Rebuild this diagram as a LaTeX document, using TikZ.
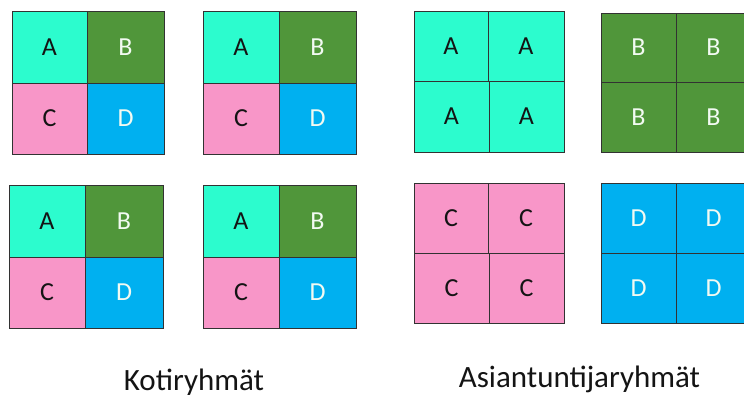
\documentclass[tikz,border=0pt]{standalone}
\usepackage{fontspec}
\setmainfont{Carlito}
\definecolor{aquaA}{RGB}{44,252,206}
\definecolor{greenB}{RGB}{80,150,58}
\definecolor{pinkC}{RGB}{248,150,200}
\definecolor{blueD}{RGB}{0,176,240}
\definecolor{edgegray}{RGB}{50,50,50}
\definecolor{softwhite}{RGB}{242,250,242}
\definecolor{inkblack}{RGB}{20,20,20}
% one cell: name, left, top, right, bottom, colour style, letter
\newcommand\cellbox[7]{%
  \node[cell,#6,minimum width={#4pt-#2pt},minimum height={#5pt-#3pt}]
    (#1) at ({(#2+#4)/2},{(#3+#5)/2}) {#7};}
\begin{document}
\begin{tikzpicture}[x=1pt,y=-1pt,
  cell/.style={draw=edgegray,line width=0.8pt,inner sep=0pt,outer sep=0pt,
    font=\fontsize{26}{26}\selectfont},
  cA/.style={fill=aquaA,text=inkblack},
  cB/.style={fill=greenB,text=softwhite},
  cC/.style={fill=pinkC,text=inkblack},
  cD/.style={fill=blueD,text=softwhite},
  caption/.style={anchor=base,text=inkblack,font=\fontsize{31}{31}\selectfont}]
\clip (0,0) rectangle (744,398);
\fill[white] (0,0) rectangle (744,398);

% home groups
\cellbox{h1a}{12}{11}{87}{83}{cA}{A}
\cellbox{h1b}{87}{11}{164}{83}{cB}{B}
\cellbox{h1c}{12}{83}{87}{154}{cC}{C}
\cellbox{h1d}{87}{83}{164}{154}{cD}{D}

\cellbox{h2a}{203}{11}{279}{83}{cA}{A}
\cellbox{h2b}{279}{11}{356}{83}{cB}{B}
\cellbox{h2c}{203}{83}{279}{154}{cC}{C}
\cellbox{h2d}{279}{83}{356}{154}{cD}{D}

\cellbox{h3a}{9}{185}{85}{257}{cA}{A}
\cellbox{h3b}{85}{185}{163}{257}{cB}{B}
\cellbox{h3c}{9}{257}{85}{328}{cC}{C}
\cellbox{h3d}{85}{257}{163}{328}{cD}{D}

\cellbox{h4a}{203}{185}{279}{257}{cA}{A}
\cellbox{h4b}{279}{185}{356}{257}{cB}{B}
\cellbox{h4c}{203}{257}{279}{328}{cC}{C}
\cellbox{h4d}{279}{257}{356}{328}{cD}{D}

% expert groups
\cellbox{ea1}{414}{11}{488}{81}{cA}{A}
\cellbox{ea2}{488}{11}{564}{81}{cA}{A}
\cellbox{ea3}{414}{81}{489}{152}{cA}{A}
\cellbox{ea4}{489}{81}{564}{152}{cA}{A}

\cellbox{eb1}{601}{13}{676}{82}{cB}{B}
\cellbox{eb2}{676}{13}{751}{82}{cB}{B}
\cellbox{eb3}{601}{82}{676}{152}{cB}{B}
\cellbox{eb4}{676}{82}{751}{152}{cB}{B}

\cellbox{ec1}{414}{183}{488}{253}{cC}{C}
\cellbox{ec2}{488}{183}{564}{253}{cC}{C}
\cellbox{ec3}{414}{253}{489}{323}{cC}{C}
\cellbox{ec4}{489}{253}{564}{323}{cC}{C}

\cellbox{ed1}{601}{183}{676}{253}{cD}{D}
\cellbox{ed2}{676}{183}{751}{253}{cD}{D}
\cellbox{ed3}{601}{253}{676}{323}{cD}{D}
\cellbox{ed4}{676}{253}{751}{323}{cD}{D}

% captions
\node[caption] (home) at (194,390) {Kotiryhmät};
\node[caption] (expert) at (579.5,387) {Asiantuntijaryhmät};
\end{tikzpicture}
\end{document}
